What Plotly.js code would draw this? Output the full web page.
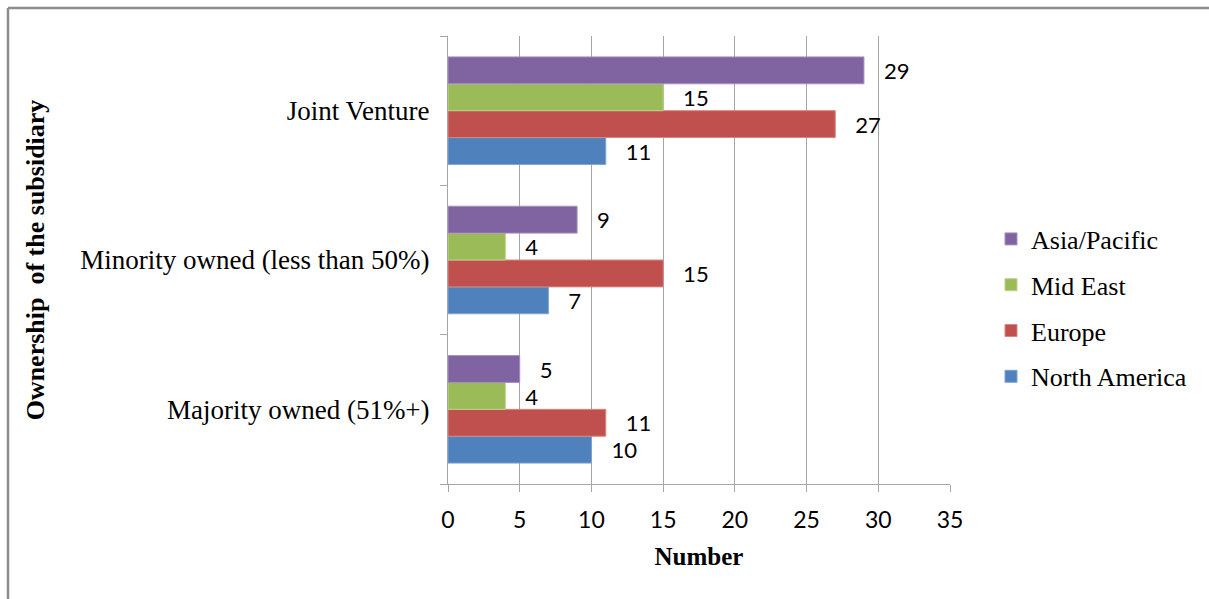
<!DOCTYPE html>
<html>
<head>
<meta charset="utf-8">
<script src="https://cdn.plot.ly/plotly-3.0.1.min.js"></script>
<style>
  html, body { margin: 0; padding: 0; background: #ffffff; }
  #chart { width: 1209px; height: 599px; }
</style>
</head>
<body>
<div id="chart"></div>
<script>
// Ownership categories (bottom to top)
const categories = [
  "Majority owned (51%+)",
  "Minority owned (less than 50%)",
  "Joint Venture"
];

// Counts per region
const northAmerica = [10, 7, 11];
const europe       = [11, 15, 27];
const midEast      = [4, 4, 15];
const asiaPacific  = [5, 9, 29];

const xTicks = [0, 5, 10, 15, 20, 25, 30, 35];

const W = 1209, H = 599;
const M = { l: 448, r: 259, t: 36, b: 115 };
const plotW = W - M.l - M.r, plotH = H - M.t - M.b;

const SERIF = "'Liberation Serif', 'Times New Roman', serif";
const SANS = "Lato, 'Open Sans', sans-serif";

function series(name, values, color, edge, rank) {
  return {
    type: "bar",
    orientation: "h",
    name: name,
    legendgroup: name,
    legendrank: rank,
    y: categories,
    x: values,
    marker: { color: color, line: { color: edge, width: 1 } },
    text: values,
    texttemplate: "\u00a0\u00a0\u00a0%{x}",
    textposition: "outside",
    cliponaxis: false,
    textfont: { family: SANS, size: 23, color: "#000000" },
    hoverinfo: "x+name"
  };
}

const data = [
  series("North America", northAmerica, "#4F81BD", "#7FA3D3", 4),
  series("Europe", europe, "#C0504D", "#D98583", 3),
  series("Mid East", midEast, "#9BBB59", "#BCD38C", 2),
  series("Asia/Pacific", asiaPacific, "#8064A2", "#A58FC0", 1)
];

// Chart-frame lines (top and left edges), positioned in paper units
const px2x = p => (p - M.l) / plotW;
const py2y = p => 1 - (p - M.t) / plotH;

const layout = {
  width: W,
  height: H,
  margin: M,
  paper_bgcolor: "#ffffff",
  plot_bgcolor: "#ffffff",
  barmode: "group",
  bargap: 0.28,
  bargroupgap: 0,
  showlegend: true,
  legend: {
    traceorder: "grouped",
    x: px2x(991), xanchor: "left",
    y: py2y(308), yanchor: "middle",
    font: { family: SERIF, size: 26, color: "#000000" },
    itemwidth: 30,
    tracegroupgap: 9,
    bgcolor: "rgba(0,0,0,0)"
  },
  xaxis: {
    range: [0, 35],
    tickvals: xTicks,
    ticktext: xTicks.map(String),
    showgrid: true,
    gridcolor: "#a6a6a6",
    gridwidth: 1,
    zeroline: false,
    showline: true,
    linecolor: "#a6a6a6",
    linewidth: 1,
    ticks: "outside",
    ticklen: 7,
    tickcolor: "#a6a6a6",
    ticklabelstandoff: 8,
    tickfont: { family: SANS, size: 23, color: "#000000" },
    title: {
      text: "<b>Number</b>",
      font: { family: SERIF, size: 25, color: "#000000" },
      standoff: 15
    },
    fixedrange: true
  },
  yaxis: {
    type: "category",
    categoryorder: "array",
    categoryarray: categories,
    showgrid: false,
    zeroline: false,
    showline: true,
    linecolor: "#a6a6a6",
    linewidth: 1,
    ticks: "outside",
    tickson: "boundaries",
    ticklen: 7,
    tickcolor: "#a6a6a6",
    ticklabelstandoff: 12,
    tickfont: { family: SERIF, size: 27, color: "#000000" },
    title: {
      text: "<b>Ownership  of the subsidiary</b>",
      font: { family: SERIF, size: 26, color: "#000000" },
      standoff: 28
    },
    fixedrange: true
  },
  shapes: [
    { type: "line", xref: "paper", yref: "paper",
      x0: px2x(8), x1: px2x(W + 5), y0: py2y(8), y1: py2y(8),
      line: { color: "#8c8c8c", width: 2.5 } },
    { type: "line", xref: "paper", yref: "paper",
      x0: px2x(8), x1: px2x(8), y0: py2y(8), y1: py2y(H + 5),
      line: { color: "#8c8c8c", width: 2.5 } }
  ]
};

Plotly.newPlot("chart", data, layout, { displayModeBar: false, staticPlot: true });
</script>
</body>
</html>
